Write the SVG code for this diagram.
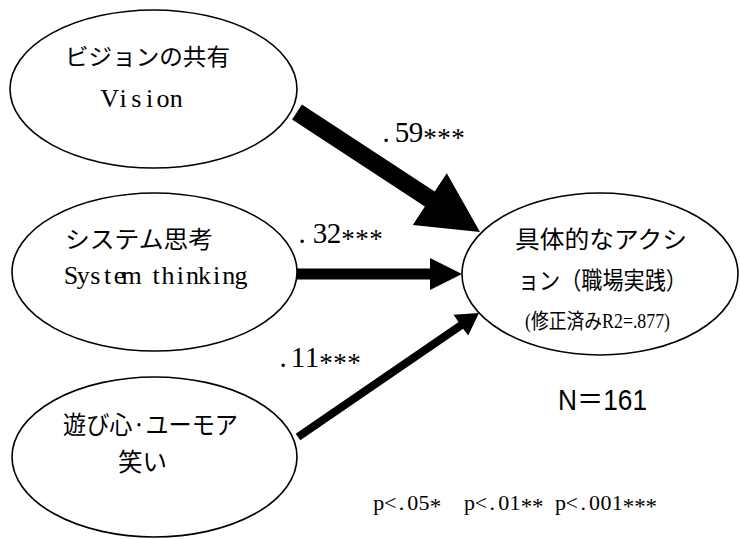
<svg xmlns="http://www.w3.org/2000/svg" width="740" height="539" viewBox="0 0 740 539">
<style>
.node{fill:#fff;stroke:#000;stroke-width:1.6}
.jp{font-family:"Noto Sans CJK JP",sans-serif;fill:#000}
.en{font-family:"Liberation Serif","Noto Sans CJK JP",serif;fill:#000}
.mono{font-family:"Liberation Serif","Noto Sans CJK JP",serif;fill:#000;text-anchor:middle}
.sans{font-family:"Liberation Sans","Noto Sans CJK JP",sans-serif;fill:#000}
.arrow{fill:#000;stroke:none}
</style>
<rect width="740" height="539" fill="#fff"/>
<g id="vision">
<ellipse class="node" cx="153.5" cy="89" rx="143.5" ry="79"/>
<text class="jp" x="65" y="65" font-size="23" textLength="165" lengthAdjust="spacingAndGlyphs">ビジョンの共有</text>
<text class="mono" x="109.7 123 136.3 149.6 163 176.3" y="107" font-size="26">Vision</text>
</g>
<g id="system">
<ellipse class="node" cx="154.5" cy="272" rx="142.5" ry="79"/>
<text class="jp" x="65" y="248" font-size="24" textLength="148" lengthAdjust="spacingAndGlyphs">システム思考</text>
<text class="mono" xml:space="preserve" x="71.1 83.2 95.3 107.5 119.6 131.7 143.9 156 168.1 180.3 192.4 204.5 216.7 228.8 240.9" y="284" font-size="26">System thinking</text>
</g>
<g id="play">
<ellipse class="node" cx="154.5" cy="457" rx="142.5" ry="80"/>
<text class="jp" x="63" y="434" font-size="25" textLength="175" lengthAdjust="spacingAndGlyphs">遊び心·ユーモア</text>
<text class="jp" x="118" y="471" font-size="25" textLength="49" lengthAdjust="spacingAndGlyphs">笑い</text>
</g>
<g id="action">
<ellipse class="node" cx="600" cy="274" rx="138" ry="81"/>
<text class="jp" x="515" y="248" font-size="24" textLength="172" lengthAdjust="spacingAndGlyphs">具体的なアクシ</text>
<text class="jp" x="518" y="289" font-size="24" textLength="169" lengthAdjust="spacingAndGlyphs">ョン（職場実践）</text>
<text class="en" x="525" y="328" font-size="21" textLength="145" lengthAdjust="spacingAndGlyphs">(修正済みR2=.877)</text>
</g>
<g id="connectors">
<polygon class="arrow" points="301.9,104.5 434.7,191.6 446.8,173.2 480,232 412.8,225 424.9,206.6 292.1,119.5"/>
<polygon class="arrow" points="297,268.5 430,268.5 430,258 462,274 430,290 430,279.5 297,279.5"/>
<polygon class="arrow" points="295.7,433.7 458.6,322.1 453.5,314.7 479,313 468.2,335.6 463.1,328.7 300.3,440.3"/>
<text class="mono" x="386 402 416" y="142" font-size="29">.59<tspan x="430 444 458" y="147" font-size="27">***</tspan></text>
<text class="mono" x="302 320 334" y="243" font-size="29">.32<tspan x="348 362 376" y="248" font-size="27">***</tspan></text>
<text class="mono" x="283 298 312" y="367" font-size="29">.11<tspan x="326 340 354" y="372" font-size="27">***</tspan></text>
</g>
<g id="notes">
<text class="sans" x="558" y="410" font-size="30" textLength="89" lengthAdjust="spacingAndGlyphs">N＝161</text>
<text class="mono" font-size="22" y="510"><tspan x="378.7 390.1 401.4 412.8 424.1">p&lt;.05</tspan><tspan x="435.5" y="514" font-size="23">*</tspan><tspan x="469.6 480.9 492.3 503.7 515" y="510">p&lt;.01</tspan><tspan x="526.4 537.7" y="514" font-size="23">**</tspan><tspan x="560.5 571.8 583.2 594.5 605.9 617.3" y="510">p&lt;.001</tspan><tspan x="628.6 640 651.3" y="514" font-size="23">***</tspan></text>
</g>
</svg>
